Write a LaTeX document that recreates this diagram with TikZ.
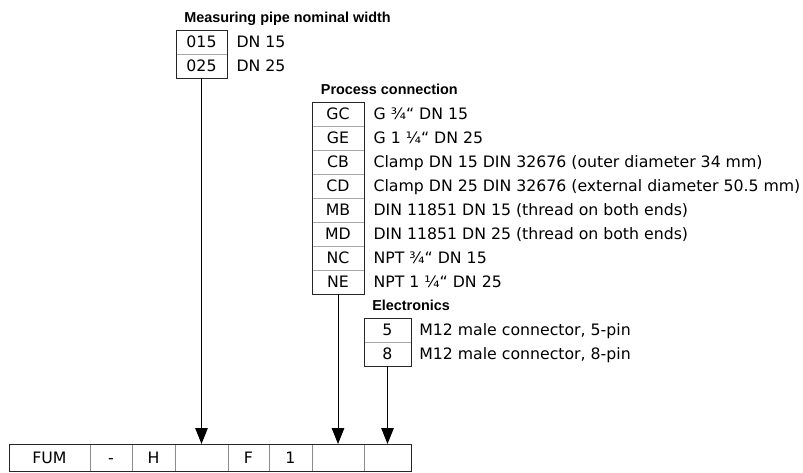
\documentclass[tikz,border=0pt]{standalone}
\usepackage{fontspec}
\setmainfont{DejaVu Sans}
\newfontfamily\titlefont{Liberation Sans}
\usetikzlibrary{positioning, arrows.meta}

\newcommand\bodysize{\fontsize{11.8}{14}\selectfont}

\tikzset{
  code/.style={draw=black!35, line width=0.75pt, minimum width=#1, minimum height=18pt,
    text height=8.6pt, text depth=0pt, inner sep=0pt, outer sep=0pt, font=\bodysize},
  code/.default=39pt,
  slot/.style={draw=black!45, line width=0.75pt, minimum width=#1, minimum height=20.25pt,
    text height=8.6pt, text depth=0pt, inner sep=0pt, outer sep=0pt, font=\bodysize},
  desc/.style={inner sep=0pt, font=\bodysize},
  headline/.style={inner sep=0pt, anchor=base west, font=\titlefont\bfseries\fontsize{10.8}{12}\selectfont},
  boxframe/.style={draw=black!85, line width=0.75pt},
  feed/.style={line width=0.75pt, -{Triangle[length=12pt,width=9.4pt]}},
}

\begin{document}
\begin{tikzpicture}[x=0.75pt, y=-0.75pt]
    \useasboundingbox (0,0) rectangle (803,472);

    % Measuring pipe nominal width
    \node[code=38.25pt] (p015) at (201.5,42) {015};
    \node[code=38.25pt, below=0pt of p015] (p025) {025};
    \draw[boxframe] (p015.north west) rectangle (p025.south east);
    \node[headline] (tpipe) at ([xshift=6pt,yshift=6pt]p015.north west) {Measuring pipe nominal width};
    \node[desc, base right=7pt of p015] (d015) {DN 15};
    \node[desc, base right=7pt of p025] (d025) {DN 25};

    % Process connection
    \node[code] (gc) at (338,114) {GC};
    \node[code, below=0pt of gc] (ge) {GE};
    \node[code, below=0pt of ge] (cb) {CB};
    \node[code, below=0pt of cb] (cd) {CD};
    \node[code, below=0pt of cd] (mb) {MB};
    \node[code, below=0pt of mb] (md) {MD};
    \node[code, below=0pt of md] (nc) {NC};
    \node[code, below=0pt of nc] (ne) {NE};
    \draw[boxframe] (gc.north west) rectangle (ne.south east);
    \node[headline] (tproc) at ([xshift=6.5pt,yshift=5.5pt]gc.north west) {Process connection};
    \node[desc, base right=7pt of gc] (dgc) {G ¾“ DN 15};
    \node[desc, base right=7pt of ge] (dge) {G 1 ¼“ DN 25};
    \node[desc, base right=7pt of cb] (dcb) {Clamp DN 15 DIN 32676 (outer diameter 34 mm)};
    \node[desc, base right=7pt of cd] (dcd) {Clamp DN 25 DIN 32676 (external diameter 50.5 mm)};
    \node[desc, base right=7pt of mb] (dmb) {DIN 11851 DN 15 (thread on both ends)};
    \node[desc, base right=7pt of md] (dmd) {DIN 11851 DN 25 (thread on both ends)};
    \node[desc, base right=7pt of nc] (dnc) {NPT ¾“ DN 15};
    \node[desc, base right=7pt of ne] (dne) {NPT 1 ¼“ DN 25};

    % Electronics
    \node[code=35.25pt] (e5) at (387.5,330) {5};
    \node[code=35.25pt, below=0pt of e5] (e8) {8};
    \draw[boxframe] (e5.north west) rectangle (e8.south east);
    \node[headline] (telec) at ([xshift=6pt,yshift=5.5pt]e5.north west) {Electronics};
    \node[desc, base right=6pt of e5] (de5) {M12 male connector, 5-pin};
    \node[desc, base right=6pt of e8] (de8) {M12 male connector, 8-pin};

    % Type code
    \node[slot=60.75pt] (fum) at (49.5,457.5) {FUM};
    \node[slot=31.5pt, right=0pt of fum] (dash) {-};
    \node[slot=32.25pt, right=0pt of dash] (h) {H};
    \node[slot=39.75pt, right=0pt of h] (pipeslot) {};
    \node[slot=30.75pt, right=0pt of pipeslot] (f) {F};
    \node[slot=32.25pt, right=0pt of f] (one) {1};
    \node[slot=39pt, right=0pt of one] (procslot) {};
    \node[slot=35.25pt, right=0pt of procslot] (elecslot) {};
    \draw[boxframe] (fum.north west) rectangle (elecslot.south east);

    % Arrows
    \draw[feed] (p025.south) -- (pipeslot.north);
    \draw[feed] (ne.south) -- (procslot.north);
    \draw[feed] (e8.south) -- (elecslot.north);
\end{tikzpicture}
\end{document}
